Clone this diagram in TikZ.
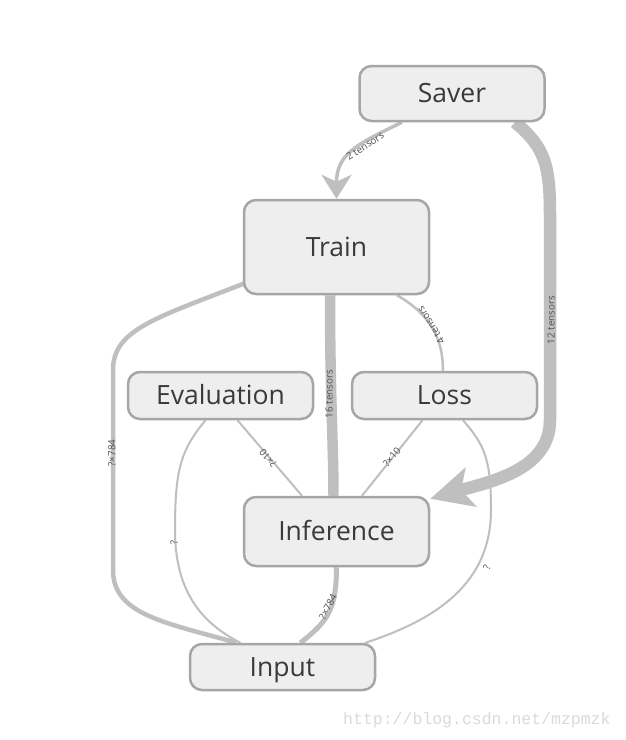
\documentclass[tikz,border=0pt]{standalone}
\usepackage{fontspec}
\setmainfont{Open Sans}
\newfontfamily\wmfont{Liberation Mono}
\usetikzlibrary{arrows.meta,calc}
\definecolor{edgec}{HTML}{BFBFBF}
\definecolor{nodefill}{HTML}{EEEEEE}
\definecolor{nodeline}{HTML}{A6A6A6}
\definecolor{txt}{HTML}{3A3A3A}
\definecolor{lblc}{HTML}{505050}
\definecolor{wmc}{HTML}{DADADA}
\pgfdeclarelayer{bg}
\pgfsetlayers{bg,main}
\begin{document}
\begin{tikzpicture}[x=1pt,y=-1pt,
 op/.style={draw=nodeline, line width=2.5pt, fill=nodefill, rounded corners=12pt, minimum width=185pt, text=txt, font=\fontsize{26.5}{30}\selectfont, inner sep=0pt, text height=18.9pt, text depth=0pt},
 edge/.style={draw=edgec},
 lbl/.style={text=lblc, font=\fontsize{9.8}{11}\selectfont, inner sep=0pt}]
\useasboundingbox (0,0) rectangle (625,740);
\node[op, minimum height=55pt] (saver) at (452,93.5) {Saver};
\node[op, minimum height=94pt] (train) at (336.5,247) {Train};
\node[op, minimum height=47pt] (eval) at (220.5,395.5) {Evaluation};
\node[op, minimum height=47pt] (loss) at (444.5,395.5) {Loss};
\node[op, minimum height=69pt] (inf) at (336.5,531.5) {Inference};
\node[op, minimum height=46pt] (input) at (282.5,667) {Input};
\begin{pgfonlayer}{bg}
\fill[white] (0,0) rectangle (625,740);
% Saver -> Train
\draw[edge, line width=3.5pt, -{Stealth[length=24pt,width=30pt,inset=7pt]}] ($(saver.south)+(-50,0)$) .. controls +(-45,22) and +(0,-45) .. (train.north);
% Saver -> Inference
\draw[edge, line width=12.5pt, -{Stealth[length=42pt,width=40pt,inset=10pt]}] ($(saver.south)+(63,0)$) .. controls +(30,25) and +(0,-50) .. (550,215) -- (550,420) .. controls +(0,50) and +(60,-17) .. ($(inf.north east)+(0,3)$);
% Train -> Inference
\draw[edge, line width=10.5pt] ($(train.south)+(-6.5,0)$) .. controls +(0,100) and +(0,-50) .. ($(inf.north)+(-3,0)$);
% Train -> Input
\draw[edge, line width=4.5pt] ($(train.south west)+(2,-12)$) .. controls +(-90,35) and +(0,-40) .. (113,370) -- (113,570) .. controls +(0,45) and +(-70,-20) .. ($(input.north)+(-46,0)$);
% Evaluation -> Input
\draw[edge, line width=2pt] ($(eval.south)+(-15,0)$) .. controls +(-25,30) and +(0,-60) .. (175,530) .. controls +(0,60) and +(-40,-20) .. ($(input.north)+(-42,0)$);
% Inference -> Input
\draw[edge, line width=5pt] (inf.south) .. controls +(0,45) and +(25,-20) .. ($(input.north)+(18,0)$);
% Loss -> Input
\draw[edge, line width=2pt] ($(loss.south)+(18.5,0)$) .. controls +(22,25) and +(0,-50) .. (491,510) .. controls +(0,80) and +(60,-20) .. ($(input.north)+(83,0)$);
% Train -> Loss
\draw[edge, line width=2.5pt] ($(train.south)+(60.5,0)$) .. controls +(35,20) and +(0,-30) .. ($(loss.north)+(-1.5,0)$);
% Evaluation -> Inference
\draw[edge, line width=2pt] ($(eval.south)+(17,0)$) -- ($(inf.north)+(-34.5,0)$);
% Loss -> Inference
\draw[edge, line width=2pt] ($(loss.south)+(-22,0)$) -- ($(inf.north)+(25.5,0)$);
\end{pgfonlayer}
\node[lbl, rotate=33] (l1) at (365,146) {2 tensors};
\node[lbl, rotate=90] (l2) at (551,320) {12 tensors};
\node[lbl, rotate=90] (l3) at (329,394) {16 tensors};
\node[lbl, rotate=122] (l4) at (431,325) {4 tensors};
\node[lbl, rotate=90] (l5) at (112,453) {?×784};
\node[lbl, rotate=130] (l6) at (268,458) {?×10};
\node[lbl, rotate=50] (l7) at (392,457) {?×10};
\node[lbl, rotate=62] (l8) at (328,607) {?×784};
\node[lbl, rotate=92] (l9) at (174,543) {?};
\node[lbl, rotate=72] (l10) at (487,567) {?};
\node[text=wmc, font=\wmfont\fontsize{16.5}{18}\selectfont, anchor=west, inner sep=0pt] (wm) at (343,720) {http://blog.csdn.net/mzpmzk};
\end{tikzpicture}
\end{document}
